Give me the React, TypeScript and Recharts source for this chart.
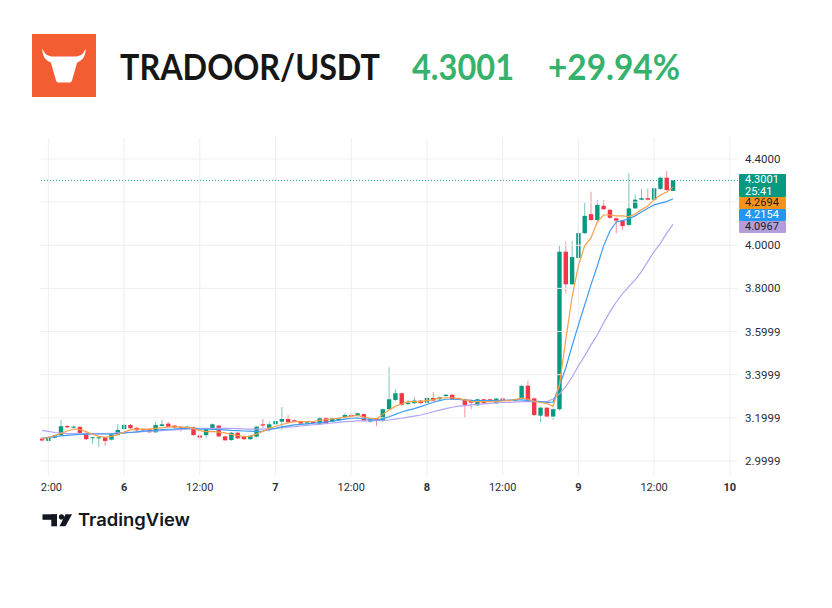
import React from 'react';
import { ComposedChart, Bar, Line, XAxis, YAxis, ReferenceLine } from 'recharts';

// ---------- data ----------
const symbol = 'TRADOOR/USDT';
const lastPrice = '4.3001';
const changePct = '+29.94%';
const countdown = '25:41';
const brand = 'TradingView';

const opens = [
  3.104, 3.093, 3.108, 3.120, 3.162, 3.154, 3.158, 3.130, 3.107, 3.105,
  3.110, 3.099, 3.120, 3.148, 3.167, 3.154, 3.148, 3.148, 3.133, 3.162,
  3.173, 3.164, 3.156, 3.150, 3.156, 3.118, 3.120, 3.147, 3.164, 3.114,
  3.097, 3.131, 3.114, 3.101, 3.113, 3.170, 3.154, 3.170, 3.182, 3.195,
  3.189, 3.185, 3.173, 3.182, 3.173, 3.201, 3.182, 3.188, 3.201, 3.213,
  3.210, 3.217, 3.182, 3.199, 3.185, 3.240, 3.283, 3.314, 3.264, 3.268,
  3.280, 3.270, 3.292, 3.286, 3.301, 3.307, 3.292, 3.286, 3.283, 3.258,
  3.286, 3.286, 3.268, 3.290, 3.283, 3.280, 3.289, 3.349, 3.290, 3.210,
  3.247, 3.206, 3.240, 3.970, 3.819, 3.941, 4.056, 4.144, 4.117, 4.183,
  4.164, 4.125, 4.114, 4.094, 4.171, 4.211, 4.218, 4.211, 4.261, 4.313,
  4.252,
];
const highs = [
  3.109, 3.113, 3.123, 3.191, 3.165, 3.165, 3.162, 3.132, 3.111, 3.111,
  3.113, 3.127, 3.171, 3.171, 3.171, 3.158, 3.151, 3.151, 3.182, 3.191,
  3.182, 3.167, 3.160, 3.162, 3.160, 3.120, 3.153, 3.174, 3.167, 3.118,
  3.134, 3.134, 3.118, 3.120, 3.162, 3.195, 3.182, 3.190, 3.250, 3.213,
  3.192, 3.188, 3.183, 3.185, 3.204, 3.204, 3.201, 3.204, 3.222, 3.222,
  3.225, 3.222, 3.201, 3.204, 3.243, 3.434, 3.333, 3.318, 3.283, 3.297,
  3.283, 3.294, 3.320, 3.299, 3.310, 3.310, 3.294, 3.289, 3.285, 3.289,
  3.289, 3.289, 3.292, 3.294, 3.285, 3.289, 3.354, 3.372, 3.294, 3.250,
  3.250, 3.243, 3.999, 4.017, 4.020, 4.094, 4.196, 4.248, 4.210, 4.210,
  4.169, 4.129, 4.117, 4.334, 4.236, 4.261, 4.261, 4.268, 4.317, 4.344,
  4.303,
];
const lows = [
  3.090, 3.088, 3.104, 3.116, 3.153, 3.151, 3.125, 3.097, 3.080, 3.066,
  3.071, 3.095, 3.118, 3.144, 3.148, 3.136, 3.139, 3.130, 3.130, 3.160,
  3.155, 3.151, 3.136, 3.146, 3.116, 3.097, 3.105, 3.144, 3.111, 3.093,
  3.093, 3.102, 3.097, 3.097, 3.109, 3.153, 3.136, 3.167, 3.144, 3.176,
  3.179, 3.169, 3.169, 3.170, 3.169, 3.169, 3.178, 3.185, 3.197, 3.206,
  3.206, 3.183, 3.178, 3.162, 3.181, 3.236, 3.278, 3.255, 3.260, 3.264,
  3.264, 3.266, 3.276, 3.283, 3.297, 3.283, 3.283, 3.202, 3.240, 3.255,
  3.264, 3.276, 3.264, 3.280, 3.276, 3.276, 3.285, 3.276, 3.208, 3.180,
  3.202, 3.190, 3.234, 3.777, 3.815, 3.936, 4.052, 4.113, 4.113, 4.164,
  4.122, 4.056, 4.071, 4.089, 4.168, 4.208, 4.208, 4.208, 4.256, 4.252,
  4.250,
];
const closes = [
  3.095, 3.110, 3.119, 3.161, 3.156, 3.159, 3.130, 3.101, 3.110, 3.110,
  3.093, 3.124, 3.144, 3.167, 3.152, 3.142, 3.142, 3.133, 3.167, 3.170,
  3.158, 3.154, 3.150, 3.159, 3.120, 3.108, 3.148, 3.170, 3.114, 3.096,
  3.131, 3.105, 3.101, 3.117, 3.159, 3.164, 3.170, 3.185, 3.195, 3.179,
  3.182, 3.173, 3.179, 3.176, 3.201, 3.173, 3.198, 3.201, 3.213, 3.210,
  3.221, 3.186, 3.198, 3.190, 3.240, 3.286, 3.314, 3.260, 3.270, 3.280,
  3.268, 3.292, 3.280, 3.295, 3.307, 3.286, 3.286, 3.260, 3.270, 3.286,
  3.268, 3.280, 3.289, 3.283, 3.280, 3.286, 3.348, 3.280, 3.213, 3.247,
  3.206, 3.240, 3.970, 3.819, 3.945, 4.056, 4.136, 4.117, 4.187, 4.167,
  4.127, 4.114, 4.089, 4.171, 4.211, 4.218, 4.211, 4.264, 4.313, 4.256,
  4.3001,
];
const maFast = [
  3.101, 3.109, 3.118, 3.128, 3.139, 3.148, 3.146, 3.136, 3.124, 3.114,
  3.110, 3.114, 3.123, 3.134, 3.144, 3.148, 3.148, 3.148, 3.151, 3.153,
  3.158, 3.158, 3.158, 3.155, 3.151, 3.141, 3.136, 3.137, 3.134, 3.130,
  3.123, 3.118, 3.113, 3.114, 3.125, 3.137, 3.151, 3.160, 3.169, 3.176,
  3.182, 3.182, 3.182, 3.183, 3.188, 3.191, 3.195, 3.198, 3.203, 3.207,
  3.211, 3.204, 3.198, 3.195, 3.216, 3.236, 3.253, 3.264, 3.275, 3.275,
  3.275, 3.280, 3.285, 3.291, 3.293, 3.293, 3.289, 3.283, 3.276, 3.275,
  3.275, 3.275, 3.276, 3.278, 3.280, 3.285, 3.291, 3.286, 3.276, 3.271,
  3.267, 3.253, 3.352, 3.561, 3.760, 3.904, 3.997, 4.034, 4.108, 4.140,
  4.140, 4.136, 4.136, 4.133, 4.145, 4.164, 4.182, 4.210, 4.233, 4.247,
  4.2694,
];
const maMid = [
  3.105, 3.109, 3.113, 3.116, 3.119, 3.121, 3.123, 3.124, 3.125, 3.125,
  3.125, 3.125, 3.127, 3.129, 3.132, 3.135, 3.138, 3.140, 3.142, 3.145,
  3.147, 3.148, 3.150, 3.151, 3.151, 3.148, 3.147, 3.146, 3.145, 3.144,
  3.142, 3.141, 3.139, 3.138, 3.136, 3.139, 3.145, 3.151, 3.158, 3.163,
  3.167, 3.170, 3.172, 3.175, 3.178, 3.181, 3.184, 3.189, 3.194, 3.198,
  3.199, 3.197, 3.192, 3.190, 3.195, 3.205, 3.216, 3.227, 3.236, 3.243,
  3.252, 3.262, 3.272, 3.280, 3.286, 3.286, 3.285, 3.283, 3.281, 3.280,
  3.280, 3.280, 3.280, 3.281, 3.282, 3.283, 3.283, 3.280, 3.278, 3.275,
  3.272, 3.273, 3.348, 3.431, 3.533, 3.630, 3.723, 3.816, 3.904, 3.997,
  4.066, 4.108, 4.114, 4.122, 4.136, 4.154, 4.171, 4.187, 4.195, 4.202,
  4.2154,
];
const maSlow = [
  3.142, 3.137, 3.132, 3.129, 3.127, 3.127, 3.126, 3.126, 3.126, 3.127,
  3.127, 3.127, 3.130, 3.132, 3.133, 3.134, 3.136, 3.138, 3.139, 3.141,
  3.143, 3.144, 3.146, 3.148, 3.150, 3.151, 3.151, 3.151, 3.151, 3.151,
  3.151, 3.150, 3.149, 3.148, 3.148, 3.148, 3.150, 3.151, 3.154, 3.157,
  3.159, 3.162, 3.165, 3.168, 3.170, 3.174, 3.176, 3.179, 3.182, 3.184,
  3.186, 3.186, 3.186, 3.187, 3.188, 3.190, 3.194, 3.198, 3.203, 3.208,
  3.213, 3.220, 3.228, 3.236, 3.243, 3.249, 3.254, 3.257, 3.260, 3.262,
  3.265, 3.267, 3.269, 3.271, 3.272, 3.274, 3.275, 3.275, 3.275, 3.275,
  3.275, 3.287, 3.311, 3.345, 3.389, 3.440, 3.487, 3.538, 3.584, 3.640,
  3.691, 3.737, 3.776, 3.808, 3.839, 3.878, 3.924, 3.970, 4.009, 4.056,
  4.0967,
];

const xTickIndex = [1, 13, 25, 37, 49, 61, 73, 85, 97, 109];
const xTickLabels = ['12:00', '6', '12:00', '7', '12:00', '8', '12:00', '9', '12:00', '10'];
const yTickValues = [3.0, 3.2, 3.4, 3.6, 3.8, 4.0, 4.2, 4.4];
const yTickLabels = ['2.9999', '3.1999', '3.3999', '3.5999', '3.8000', '4.0000', '', '4.4000'];

const X_DOMAIN: [number, number] = [-0.32, 110.3];
const Y_DOMAIN: [number, number] = [2.935, 4.497];

const data = opens.map((o, i) => ({
  i,
  open: o,
  high: highs[i],
  low: lows[i],
  close: closes[i],
  maFast: maFast[i],
  maMid: maMid[i],
  maSlow: maSlow[i],
}));

// ---------- styles ----------
const GREEN = '#089981';
const RED = '#f23645';
const ORANGE = '#f7a049';
const BLUE = '#3d9df3';
const PURPLE = '#b4a3f5';
const GRID = '#efefef';
const TEXT = '#2a2e39';
const FONT = 'Roboto, "Noto Sans", sans-serif';
const BODY_W = 4.4;

const Candle = (props: any) => {
  const { x, y, width, height, payload } = props;
  if (!payload || x == null || y == null) return null;
  const { open, close, high, low } = payload;
  const up = close >= open;
  const color = up ? GREEN : RED;
  const top = Math.min(y, y + height);
  const h = Math.abs(height);
  const ppu = h / (high - low || 1);
  const py = (v: number) => top + (high - v) * ppu;
  const cx = x + width / 2;
  const bTop = py(Math.max(open, close));
  const bBot = py(Math.min(open, close));
  const bh = Math.max(1, bBot - bTop);
  return (
    <g>
      <line x1={cx} x2={cx} y1={top} y2={top + h} stroke={color} strokeOpacity={0.55} strokeWidth={1} />
      <rect x={cx - BODY_W / 2} y={bTop} width={BODY_W} height={bh} fill={color} />
    </g>
  );
};

const XTick = (props: any) => {
  const { x, y, payload } = props;
  const idx = xTickIndex.indexOf(payload.value);
  const label = idx >= 0 ? xTickLabels[idx] : '';
  const bold = !label.includes(':');
  return (
    <text x={x} y={y} dy="0.71em" textAnchor="middle" fontSize={11} fontFamily={FONT}
      fontWeight={bold ? 700 : 400} fill={TEXT}>
      {label}
    </text>
  );
};

const YTick = (props: any) => {
  const { x, y, payload } = props;
  const idx = yTickValues.findIndex((v) => Math.abs(v - payload.value) < 1e-6);
  const label = idx >= 0 ? yTickLabels[idx] : '';
  return (
    <text x={x} y={y} dy="0.355em" textAnchor="start" fontSize={11.5} fontFamily={FONT} fill={TEXT}>
      {label}
    </text>
  );
};

const badge = (top: number, h: number, bg: string, color: string, lines: string[]) => (
  <div
    style={{
      position: 'absolute',
      left: 739,
      top,
      width: 47,
      height: h,
      background: bg,
      color,
      fontFamily: FONT,
      fontSize: 11,
      lineHeight: '11.5px',
      paddingLeft: 6,
      boxSizing: 'border-box',
      borderRadius: 1,
    }}
  >
    {lines.map((l, k) => (
      <div key={k}>{l}</div>
    ))}
  </div>
);

export default function App() {
  return (
    <div style={{ position: 'absolute', left: 0, top: 0, width: 832, height: 608, background: '#fff', overflow: 'hidden' }}>
      <svg width={832} height={608} style={{ position: 'absolute', left: 0, top: 0 }}>
        {/* logo */}
        <rect x={32} y={34} width={64} height={63} fill="#f45d32" />
        <path
          transform="translate(32,34)"
          d="M10.5,14.5 C12.5,20.5 16,22.5 22,22.5 L42,22.5 C48,22.5 51.5,20.5 53.5,14.5 C54,21.5 51,26 46,28 L45,29 L40,46.5 C39.5,48 38.5,48.5 37,48.5 L27,48.5 C25.5,48.5 24.5,48 24,46.5 L19,29 L18,28 C13,26 10,21.5 10.5,14.5 Z"
          fill="#fff"
        />
        <text x={120} y={79.5} fontFamily="Lato, sans-serif" fontWeight={700} fontSize={36} fill="#161616"
          textLength={260} lengthAdjust="spacingAndGlyphs">{symbol}</text>
        <text x={412} y={79.5} fontFamily="Lato, sans-serif" fontWeight={700} fontSize={36} fill="#37b26c"
          textLength={102} lengthAdjust="spacingAndGlyphs">{lastPrice}</text>
        <text x={548} y={79.5} fontFamily="Lato, sans-serif" fontWeight={700} fontSize={36} fill="#37b26c"
          textLength={132} lengthAdjust="spacingAndGlyphs">{changePct}</text>
        {/* TradingView mark */}
        <rect x={42.5} y={514.3} width={14.5} height={5.5} fill="#131722" />
        <rect x={51.3} y={514.3} width={5.7} height={12} fill="#131722" />
        <circle cx={61.5} cy={516.9} r={2.6} fill="#131722" />
        <path d="M65.5,514.3 L72,514.3 L65.5,526.3 L59.5,526.3 Z" fill="#131722" />
        <text x={78} y={526} fontFamily="Inter, Lato, sans-serif" fontWeight={600} fontSize={17} fill="#131722"
          textLength={112} lengthAdjust="spacingAndGlyphs">{brand}</text>
      </svg>

      <div style={{ position: 'absolute', left: 40, top: 0, width: 792, height: 608, overflow: 'hidden' }}>
        <div style={{ position: 'absolute', left: -40, top: 0 }}>
          <ComposedChart
            width={832}
            height={608}
            data={data}
            margin={{ top: 138, right: 34, bottom: 103, left: 40 }}
          >
            <XAxis
              dataKey="i"
              type="number"
              domain={X_DOMAIN}
              allowDataOverflow
              ticks={xTickIndex}
              interval={0}
              height={30}
              axisLine={false}
              tickLine={false}
              tickSize={0}
              tickMargin={8}
              tick={<XTick />}
            />
            <YAxis
              orientation="right"
              type="number"
              domain={Y_DOMAIN}
              allowDataOverflow
              ticks={yTickValues}
              interval={0}
              width={60}
              axisLine={false}
              tickLine={false}
              tickSize={0}
              tickMargin={7}
              tick={<YTick />}
            />
            {yTickValues.map((v) => (
              <ReferenceLine key={'h' + v} y={v} stroke={GRID} strokeWidth={1} />
            ))}
            {xTickIndex.map((v) => (
              <ReferenceLine key={'v' + v} x={v} stroke={GRID} strokeWidth={1} />
            ))}
            <ReferenceLine y={4.3001} stroke={GREEN} strokeOpacity={0.8} strokeDasharray="1 2" strokeWidth={1} />
            <Bar
              dataKey={(d: any) => [d.low, d.high]}
              barSize={BODY_W}
              isAnimationActive={false}
              shape={(p: any) => <Candle {...p} />}
            />
            <Line type="linear" dataKey="maSlow" stroke={PURPLE} strokeWidth={1.2} dot={false} activeDot={false} isAnimationActive={false} />
            <Line type="linear" dataKey="maMid" stroke={BLUE} strokeWidth={1.2} dot={false} activeDot={false} isAnimationActive={false} />
            <Line type="linear" dataKey="maFast" stroke={ORANGE} strokeWidth={1.2} dot={false} activeDot={false} isAnimationActive={false} />
          </ComposedChart>
        </div>
      </div>

      {badge(174, 23, GREEN, '#ffffff', [lastPrice, countdown])}
      {badge(197, 12, '#f7931a', '#1d1d1d', [maFast[maFast.length - 1].toFixed(4)])}
      {badge(209, 12, '#2196f3', '#ffffff', [maMid[maMid.length - 1].toFixed(4)])}
      {badge(221, 12, '#b39ddb', '#1d1d1d', [maSlow[maSlow.length - 1].toFixed(4)])}
    </div>
  );
}
